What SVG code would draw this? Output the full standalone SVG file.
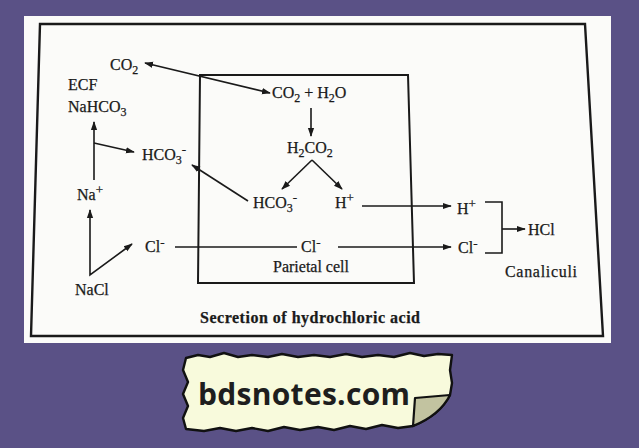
<svg xmlns="http://www.w3.org/2000/svg" width="639" height="448" viewBox="0 0 639 448">
<defs>
<style>
.t{font-family:"Liberation Serif","Times New Roman",serif;font-size:16px;fill:#1a1a1a;stroke:#1a1a1a;stroke-width:0.25}
.s{font-size:12px}
.p{font-size:13px}
.c{stroke:#1a1a1a;stroke-width:1.6;fill:none}
.a{marker-end:url(#ah)}
.b{marker-start:url(#ah);marker-end:url(#ah)}
.frame{fill:none;stroke:#1a1a1a;stroke-width:2.4}
</style>
<marker id="ah" viewBox="0 0 10 10" refX="9" refY="5" markerWidth="9" markerHeight="9" orient="auto-start-reverse" markerUnits="userSpaceOnUse">
<path d="M0,1.5 L10,5 L0,8.5 z" fill="#1a1a1a"/>
</marker>
</defs>
<rect width="639" height="448" fill="#5a5186"/>
<rect x="24" y="16" width="587" height="327" fill="#fbfbf9"/>
<g id="frame"><polygon class="frame" points="40,24 585,24 603,336 31,336"/></g>
<g id="parietal-cell">
<polygon class="frame" style="stroke-width:2" points="200,75 408,75 414,283 198,283"/>
<text class="t" x="273" y="272">Parietal cell</text>
</g>
<g id="connectors">
<line class="c b" x1="145" y1="63" x2="270" y2="93"/>
<line class="c a" x1="94" y1="180" x2="94" y2="122"/>
<line class="c a" x1="94" y1="143" x2="134" y2="152"/>
<line class="c a" x1="248" y1="201" x2="192" y2="165"/>
<polyline class="c" points="90,210 90,275 132,244" style="marker-start:url(#ah);marker-end:url(#ah)"/>
<line class="c" x1="175" y1="247" x2="297" y2="247"/>
<line class="c a" x1="338" y1="247" x2="451" y2="247"/>
<line class="c a" x1="362" y1="206" x2="451" y2="206"/>
<line class="c a" x1="311" y1="108" x2="311" y2="136"/>
<line class="c a" x1="312" y1="160" x2="282" y2="189"/>
<line class="c a" x1="312" y1="160" x2="342" y2="189"/>
<polyline class="c" points="485,202 502,202 502,253 485,253"/>
<line class="c a" x1="502" y1="229" x2="525" y2="229"/>
</g>
<g id="co2-out"><text class="t" x="110" y="70">CO<tspan class="s" dy="4">2</tspan></text></g>
<g id="ecf"><text class="t" x="68" y="90">ECF</text></g>
<g id="nahco3"><text class="t" x="68" y="112">NaHCO<tspan class="s" dy="4">3</tspan></text></g>
<g id="hco3-out"><text class="t" x="142" y="160">HCO<tspan class="s" dy="4">3</tspan><tspan class="p" dy="-10">-</tspan></text></g>
<g id="na"><text class="t" x="77" y="200">Na<tspan class="p" dy="-6">+</tspan></text></g>
<g id="nacl"><text class="t" x="75" y="295">NaCl</text></g>
<g id="cl-out"><text class="t" x="145" y="252">Cl<tspan class="p" dy="-5">-</tspan></text></g>
<g id="co2-h2o"><text class="t" x="272" y="98">CO<tspan class="s" dy="4">2</tspan><tspan dy="-4"> + H</tspan><tspan class="s" dy="4">2</tspan><tspan dy="-4">O</tspan></text></g>
<g id="h2co2"><text class="t" x="287" y="153">H<tspan class="s" dy="4">2</tspan><tspan dy="-4">CO</tspan><tspan class="s" dy="4">2</tspan></text></g>
<g id="hco3-in"><text class="t" x="253" y="208">HCO<tspan class="s" dy="4">3</tspan><tspan class="p" dy="-10">-</tspan></text></g>
<g id="h-in"><text class="t" x="335" y="208">H<tspan class="p" dy="-6">+</tspan></text></g>
<g id="cl-mid"><text class="t" x="301" y="252">Cl<tspan class="p" dy="-5">-</tspan></text></g>
<g id="h-right"><text class="t" x="457" y="214">H<tspan class="p" dy="-6">+</tspan></text></g>
<g id="cl-right"><text class="t" x="458" y="253">Cl<tspan class="p" dy="-5">-</tspan></text></g>
<g id="hcl"><text class="t" x="528" y="235">HCl</text></g>
<g id="canaliculi"><text class="t" x="505" y="277" textLength="72">Canaliculi</text></g>
<g id="title"><text class="t" x="200" y="323" font-weight="bold" textLength="220">Secretion of hydrochloric acid</text></g>
<g id="banner">
<path d="M186,358 L198,355 L210,357 L224,353 L238,357 L252,355 L268,357 L282,354 L298,357 L314,355 L330,357 L346,354 L362,357 L378,355 L394,357 L410,353 L424,356 L438,354 L452,355 L450,370 L452,383 L450,395 Q440,415 413,426 L398,428 L382,425 L366,429 L350,426 L334,430 L318,427 L300,430 L284,427 L268,431 L252,428 L236,431 L220,428 L204,431 L186,429 L183,418 L188,406 L183,394 L188,382 L183,370 Z" fill="#f8fadc" stroke="#111" stroke-width="2.4" stroke-linejoin="round"/>
<path d="M415,398 L450,395 Q440,415 413,426 Z" fill="#c2c3a0" stroke="#111" stroke-width="2.2" stroke-linejoin="round"/>
<text x="198" y="405" font-family="'Open Sans','Liberation Sans',sans-serif" font-weight="bold" font-size="30" fill="#1e1e1e" textLength="212">bdsnotes.com</text>
</g>
</svg>
